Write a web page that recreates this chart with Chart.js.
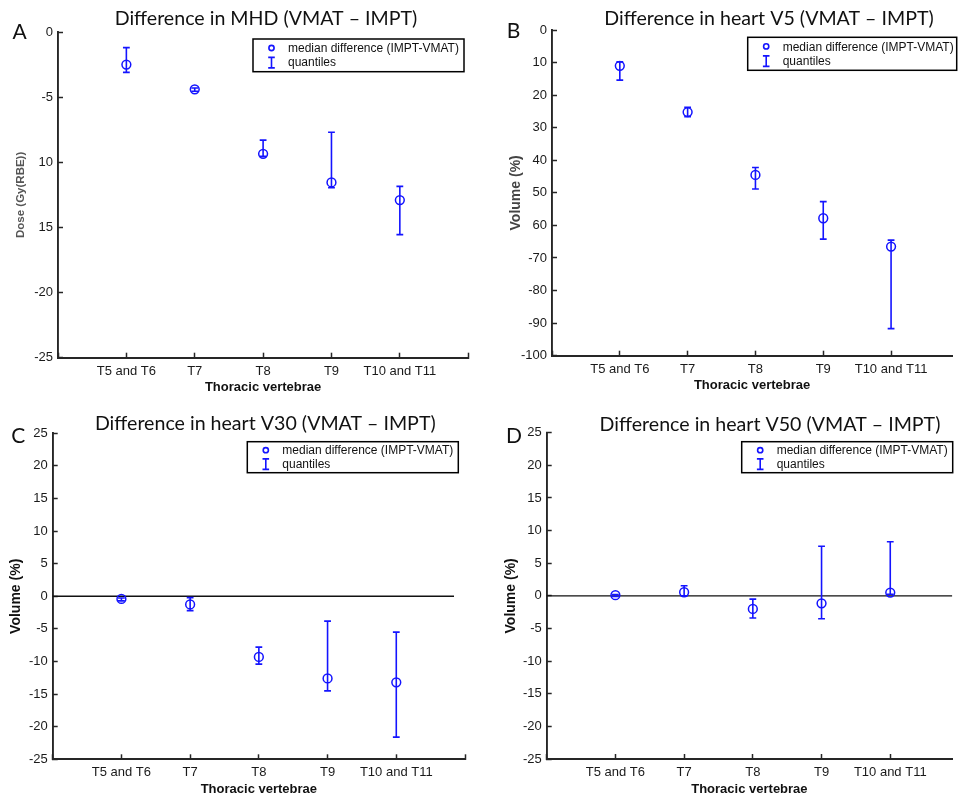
<!DOCTYPE html>
<html>
<head>
<meta charset="utf-8">
<script src="https://cdn.jsdelivr.net/npm/chart.js@4.4.1/dist/chart.umd.min.js"></script>
<style>
  body { margin: 0; background: #fff; width: 958px; height: 800px; position: relative; overflow: hidden; }
  canvas { position: absolute; }
</style>
</head>
<body>
<canvas id="mhd" width="479" height="400" style="left:0;top:0"></canvas>
<canvas id="v5" width="479" height="400" style="left:479px;top:0"></canvas>
<canvas id="v30" width="479" height="400" style="left:0;top:400px"></canvas>
<canvas id="v50" width="479" height="400" style="left:479px;top:400px"></canvas>
<script>
const vertebrae = ['T5 and T6', 'T7', 'T8', 'T9', 'T10 and T11'];

// mean heart dose, Gy(RBE)
const mhd_median = [-2.5, -4.4, -9.35, -11.55, -12.9];
const mhd_lower = [-3.1, -4.55, -9.55, -11.95, -15.55];
const mhd_upper = [-1.2, -4.3, -8.3, -7.7, -11.85];
const mhd_ticks = [0, -5, -10, -15, -20, -25];
const mhd_tick_labels = ['0', '-5', '10', '15', '-20', '-25'];

// heart V5, %
const v5_median = [-11, -25.2, -44.5, -57.8, -66.5];
const v5_lower = [-15.4, -26.6, -48.8, -64.2, -91.7];
const v5_upper = [-9.8, -23.7, -42.2, -52.7, -64.5];
const v5_ticks = [0, -10, -20, -30, -40, -50, -60, -70, -80, -90, -100];
const v5_tick_labels = ['0', '10', '20', '30', '40', '50', '60', '-70', '-80', '-90', '-100'];

// heart V30, %
const v30_median = [-0.4, -1.25, -9.3, -12.6, -13.2];
const v30_lower = [-0.7, -2.2, -10.4, -14.5, -21.6];
const v30_upper = [-0.25, -0.2, -7.8, -3.8, -5.5];

// heart V50, %
const v50_median = [0.1, 0.55, -2.0, -1.15, 0.5];
const v50_lower = [-0.1, 0.0, -3.4, -3.5, 0.25];
const v50_upper = [0.2, 1.55, -0.5, 7.6, 8.3];

const vol_ticks = [25, 20, 15, 10, 5, 0, -5, -10, -15, -20, -25];
const vol_tick_labels = ['25', '20', '15', '10', '5', '0', '-5', '-10', '-15', '-20', '-25'];

const BLUE = '#1414ff';
const AXIS = '#262626';
const SANS = '"Liberation Sans", Arial, sans-serif';

// titles, panel letters, framed legend and zero line
const panelDecor = {
    id: 'panelDecor',
    beforeDatasetsDraw(chart, args, opts) {
        if (opts.zeroEnd === undefined) return;
        const {ctx, chartArea, scales} = chart;
        const y0 = scales.y.getPixelForValue(0);
        ctx.save();
        ctx.strokeStyle = '#111';
        ctx.lineWidth = 1.4;
        ctx.beginPath();
        ctx.moveTo(chartArea.left, y0);
        ctx.lineTo(scales.x.getPixelForValue(opts.zeroEnd), y0);
        ctx.stroke();
        ctx.restore();
    },
    afterDraw(chart, args, opts) {
        const ctx = chart.ctx;
        ctx.save();
        ctx.fillStyle = '#111';
        ctx.textAlign = 'center';
        ctx.textBaseline = 'alphabetic';
        ctx.font = '19.6px Lato, "Open Sans", sans-serif';
        ctx.fillText(opts.title, opts.titleX, opts.titleY);
        ctx.font = '21px Lato, "Open Sans", sans-serif';
        ctx.fillText(opts.letter, opts.letterX, opts.letterY);

        // legend box
        const [bx, by, bw, bh] = opts.box;
        ctx.fillStyle = '#fff';
        ctx.fillRect(bx, by, bw, bh);
        ctx.strokeStyle = '#000';
        ctx.lineWidth = 1.5;
        ctx.strokeRect(bx, by, bw, bh);
        const mx = bx + 18.5, l1 = by + bh * 0.3, l2 = by + bh * 0.73;
        ctx.strokeStyle = BLUE;
        ctx.lineWidth = 1.6;
        ctx.beginPath();
        ctx.arc(mx, l1 - 0.8, 2.6, 0, Math.PI * 2);
        ctx.stroke();
        ctx.beginPath();
        ctx.moveTo(mx, l2 - 5.5); ctx.lineTo(mx, l2 + 5);
        ctx.moveTo(mx - 3.3, l2 - 5.5); ctx.lineTo(mx + 3.3, l2 - 5.5);
        ctx.moveTo(mx - 3.3, l2 + 5); ctx.lineTo(mx + 3.3, l2 + 5);
        ctx.stroke();
        ctx.fillStyle = '#111';
        ctx.textAlign = 'left';
        ctx.textBaseline = 'middle';
        ctx.font = '12px ' + SANS;
        ctx.fillText('median difference (IMPT-VMAT)', bx + 35, l1);
        ctx.fillText('quantiles', bx + 35, l2);
        ctx.restore();
    }
};

function errorSegments(lower, upper) {
    const pts = [];
    lower.forEach((lo, i) => {
        pts.push({x: i + 1, y: lo}, {x: i + 1, y: upper[i]}, {x: i + 1, y: null});
    });
    return pts;
}

function capPoints(lower, upper) {
    const pts = [];
    lower.forEach((lo, i) => {
        pts.push({x: i + 1, y: lo}, {x: i + 1, y: upper[i]});
    });
    return pts;
}

function makePanel(id, p) {
    const ctx = document.getElementById(id).getContext('2d');
    return new Chart(ctx, {
        type: 'scatter',
        data: {
            datasets: [
                {
                    data: p.median.map((v, i) => ({x: i + 1, y: v})),
                    pointStyle: 'circle',
                    pointRadius: 4.4,
                    pointBorderWidth: 1.5,
                    borderColor: BLUE,
                    backgroundColor: 'rgba(0,0,0,0)',
                },
                {
                    data: capPoints(p.lower, p.upper),
                    pointStyle: 'line',
                    pointRadius: 3.4,
                    pointBorderWidth: 1.6,
                    borderColor: BLUE,
                },
                {
                    type: 'line',
                    data: errorSegments(p.lower, p.upper),
                    showLine: true,
                    spanGaps: false,
                    borderColor: BLUE,
                    borderWidth: 1.6,
                    pointRadius: 0,
                },
            ]
        },
        options: {
            responsive: false,
            animation: false,
            events: [],
            layout: { padding: p.pad },
            scales: {
                x: {
                    type: 'linear',
                    min: 0,
                    max: p.xMax,
                    offset: false,
                    ticks: {
                        stepSize: 1,
                        includeBounds: false,
                        autoSkip: false,
                        maxRotation: 0,
                        padding: 10.8,
                        color: '#1a1a1a',
                        font: { family: SANS, size: 13 },
                        callback: v => (Number.isInteger(v) && vertebrae[v - 1]) || '',
                    },
                    grid: { drawOnChartArea: false, drawTicks: true, tickLength: -5, tickWidth: 1.5, tickColor: AXIS },
                    border: { color: AXIS, width: 1.9 },
                    title: {
                        display: true,
                        text: 'Thoracic vertebrae',
                        color: '#111',
                        padding: 0,
                        font: { family: SANS, size: 13, weight: 'bold' },
                    },
                    afterFit: s => { s.height = p.hX; },
                },
                y: {
                    min: p.yMin,
                    max: p.yMax,
                    ticks: {
                        stepSize: p.yStep,
                        padding: 10,
                        color: '#1a1a1a',
                        font: { family: SANS, size: 13 },
                        callback: v => {
                            const k = p.ticks.indexOf(v);
                            return k < 0 ? '' : p.tickLabels[k];
                        },
                    },
                    grid: { drawOnChartArea: false, drawTicks: true, tickLength: -5, tickWidth: 1.5, tickColor: AXIS },
                    border: { color: AXIS, width: 1.9 },
                    title: {
                        display: true,
                        text: p.yTitle,
                        color: p.yTitleColor,
                        padding: 0,
                        font: { family: SANS, size: p.yTitleSize, weight: 'bold' },
                    },
                    afterFit: s => { s.width = p.wY; },
                },
            },
            plugins: {
                legend: { display: false },
                tooltip: { enabled: false },
                panelDecor: p.decor,
            },
        },
        plugins: [panelDecor],
    });
}

makePanel('mhd', {
    median: mhd_median, lower: mhd_lower, upper: mhd_upper,
    ticks: mhd_ticks, tickLabels: mhd_tick_labels,
    yMin: -25, yMax: 0, yStep: 5, xMax: 6,
    yTitle: 'Dose (Gy(RBE))', yTitleColor: '#555', yTitleSize: 11.5,
    pad: { left: 13.6, right: 8, top: 32, bottom: 4.8 }, wY: 44.4, hX: 37.5,
    decor: {
        title: 'Difference in MHD (VMAT \u2013 IMPT)', titleX: 266, titleY: 25,
        letter: 'A', letterX: 19.7, letterY: 39.3,
        box: [253, 39, 211, 32.7],
    },
});

makePanel('v5', {
    median: v5_median, lower: v5_lower, upper: v5_upper,
    ticks: v5_ticks, tickLabels: v5_tick_labels,
    yMin: -100, yMax: 0, yStep: 10, xMax: 5.9,
    yTitle: 'Volume (%)', yTitleColor: '#444', yTitleSize: 14,
    pad: { left: 28.6, right: 0.4, top: 30, bottom: 6.7 }, wY: 44.4, hX: 37.6,
    decor: {
        title: 'Difference in heart V5 (VMAT \u2013 IMPT)', titleX: 290, titleY: 25,
        letter: 'B', letterX: 34.5, letterY: 38.3,
        box: [268.7, 37.3, 209, 33],
    },
});

makePanel('v30', {
    median: v30_median, lower: v30_lower, upper: v30_upper,
    ticks: vol_ticks, tickLabels: vol_tick_labels,
    yMin: -25, yMax: 25, yStep: 5, xMax: 6,
    yTitle: 'Volume (%)', yTitleColor: '#111', yTitleSize: 14,
    pad: { left: 7.6, right: 14, top: 33.3, bottom: 3.2 }, wY: 45.1, hX: 37.5,
    decor: {
        title: 'Difference in heart V30 (VMAT \u2013 IMPT)', titleX: 265.3, titleY: 30,
        letter: 'C', letterX: 18.3, letterY: 43.3,
        box: [247.3, 41.7, 211, 31],
        zeroEnd: 5.84,
    },
});

makePanel('v50', {
    median: v50_median, lower: v50_lower, upper: v50_upper,
    ticks: vol_ticks, tickLabels: vol_tick_labels,
    yMin: -25, yMax: 25, yStep: 5, xMax: 5.9,
    yTitle: 'Volume (%)', yTitleColor: '#111', yTitleSize: 14,
    pad: { left: 23.9, right: 4.7, top: 32.7, bottom: 3.2 }, wY: 43.8, hX: 37.8,
    decor: {
        title: 'Difference in heart V50 (VMAT \u2013 IMPT)', titleX: 291, titleY: 30.5,
        letter: 'D', letterX: 35, letterY: 43,
        box: [262.7, 41.7, 211, 31],
        zeroEnd: 5.9,
    },
});
</script>
</body>
</html>
